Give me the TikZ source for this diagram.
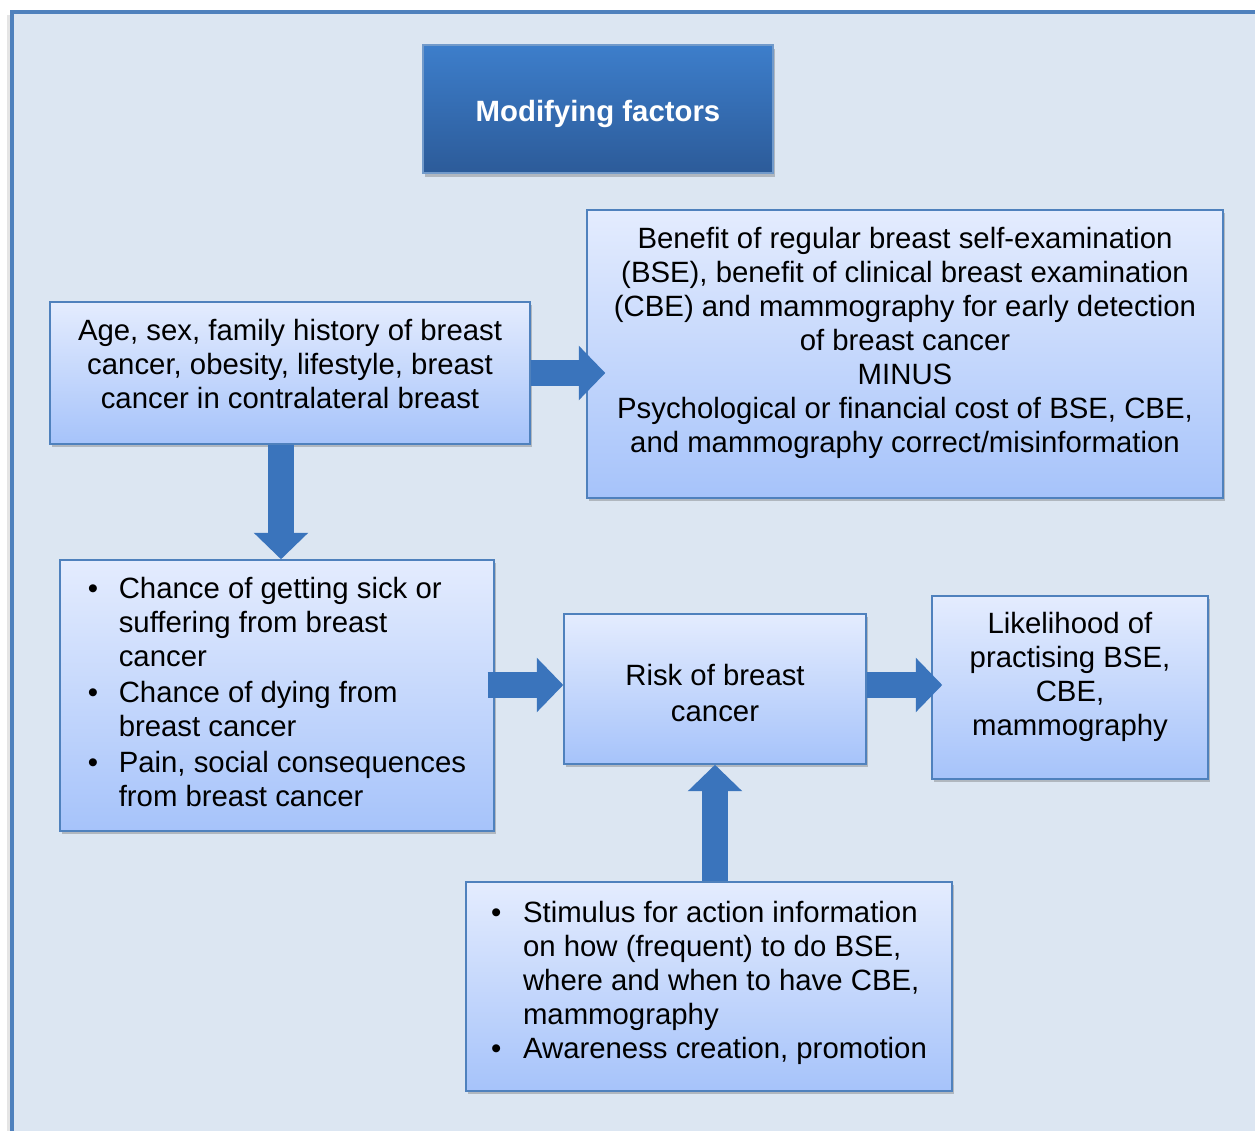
\documentclass[tikz,border=0pt]{standalone}
\usepackage{fontspec}
\setmainfont{Liberation Sans}
\usepackage{xcolor}
\usepackage{tikz}
\usetikzlibrary{arrows.meta,shadows,positioning}

\definecolor{bgblue}{HTML}{DCE6F2}
\definecolor{lineblue}{HTML}{4F81BD}
\definecolor{boxtop}{HTML}{E4ECFE}
\definecolor{boxbot}{HTML}{A6C3FA}
\definecolor{headtop}{HTML}{3D7ECB}
\definecolor{headbot}{HTML}{2C5B99}
\definecolor{arrblue}{HTML}{3A74BC}

\newcommand{\boxfont}{\fontsize{16.7}{19.4}\selectfont}
% lift a block of lines without changing its size
\newcommand{\lift}[2]{\raisebox{#1}[\height][\depth]{\begin{tabular}{@{}c@{}}#2\end{tabular}}}

\begin{document}
\begin{tikzpicture}[x=0.02cm,y=-0.02cm,
  b/.style={draw=lineblue,line width=0.03cm,top color=boxtop,bottom color=boxbot,
            align=center,font=\boxfont,inner sep=0pt,
            drop shadow={shadow xshift=0.04cm,shadow yshift=-0.06cm,opacity=0.3,fill=black!70}},
  hd/.style={draw=lineblue!80,line width=0.03cm,top color=headtop,bottom color=headbot,
            align=center,font=\boxfont\bfseries,text=white,
            minimum width=7cm,minimum height=2.56cm,
            drop shadow={shadow xshift=0.04cm,shadow yshift=-0.08cm,opacity=0.3,fill=black!70}},
  a/.style={line width=0.52cm,draw=arrblue,-{Triangle[length=0.53cm,width=1.06cm]}}
]
\useasboundingbox (0,0) rectangle (1255,1131);
\clip (0,0) rectangle (1255,1131);
% outer frame
\fill[black!10] (7,15) rectangle (1270,1150);
\draw[lineblue,line width=0.07cm,fill=bgblue] (12,12) rectangle (1270,1150);

\node[hd] (mod) at (598,109) {\lift{-0.12cm}{Modifying factors}};
\node[b,minimum width=9.6cm,minimum height=2.84cm] (age) at (290,373)
  {\lift{0.10cm}{Age, sex, family history of breast\\cancer, obesity, lifestyle, breast\\cancer in contralateral breast}};
\node[b,minimum width=12.72cm,minimum height=5.76cm] (ben) at (905,354)
  {\lift{0.21cm}{Benefit of regular breast self-examination\\(BSE), benefit of clinical breast examination\\(CBE) and mammography for early detection\\of breast cancer\\MINUS\\Psychological or financial cost of BSE, CBE,\\and mammography correct/misinformation}};
\node[b,minimum width=8.68cm,minimum height=5.42cm] (chance) at (277,695.5)
  {\begin{tabular}{@{}p{0.62cm}@{}l@{}}
   \textbullet & Chance of getting sick or\\ & suffering from breast\\ & cancer\\[0.04cm]
   \textbullet & Chance of dying from\\ & breast cancer\\[0.04cm]
   \textbullet & Pain, social consequences\\ & from breast cancer
   \end{tabular}};
\node[b,minimum width=6.04cm,minimum height=3cm,font=\fontsize{16.7}{20.6}\selectfont] (risk) at (715,689)
  {\lift{-0.14cm}{Risk of breast\\cancer}};
\node[b,minimum width=5.52cm,minimum height=3.66cm] (like) at (1070,687.5)
  {\lift{0.19cm}{Likelihood of\\practising BSE,\\CBE,\\mammography}};
\node[b,minimum width=9.72cm,minimum height=4.18cm] (stim) at (709,986.5)
  {\raisebox{0.06cm}[\height][\depth]{\begin{tabular}{@{}p{0.64cm}@{}l@{}}
   \textbullet & Stimulus for action information\\ & on how (frequent) to do BSE,\\ & where and when to have CBE,\\ & mammography\\
   \textbullet & Awareness creation, promotion
   \end{tabular}}};

\draw[a,shorten >=-0.38cm] (age.east) -- (age.east -| ben.west);
\draw[a] ([xshift=-0.18cm]age.south) -- ([xshift=-0.18cm]age.south |- chance.north);
\draw[a,shorten <=-0.14cm] ([yshift=0.08cm]risk.west -| chance.east) -- ([yshift=0.08cm]risk.west);
\draw[a,shorten >=-0.22cm] ([yshift=0.08cm]risk.east) -- ([yshift=0.08cm]risk.east -| like.west);
\draw[a] (stim.north -| risk.south) -- (risk.south);
\end{tikzpicture}
\end{document}
